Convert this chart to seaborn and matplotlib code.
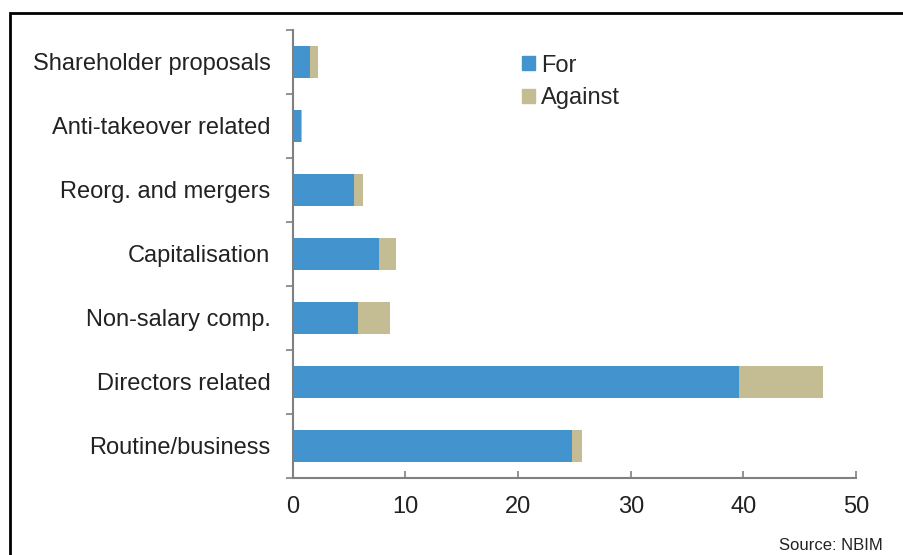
# %% import modules
import numpy as np
import pandas as pd
import matplotlib
matplotlib.use('Agg')
import matplotlib.pyplot as plt
from matplotlib.patches import Rectangle, Patch
import seaborn as sns

# %% data
categories = ['Shareholder proposals', 'Anti-takeover related', 'Reorg. and mergers',
              'Capitalisation', 'Non-salary comp.', 'Directors related', 'Routine/business']
votes_for = [1.5, 0.7, 5.4, 7.7, 5.8, 39.6, 24.8]
votes_against = [0.7, 0.1, 0.8, 1.5, 2.8, 7.5, 0.9]
x_ticks = [0, 10, 20, 30, 40, 50]

blue = '#4393cf'
khaki = '#c4bd94'

df = pd.DataFrame({'category': categories, 'For': votes_for, 'Against': votes_against})
df['total'] = df['For'] + df['Against']

# %% plot
sns.set_style('white')
plt.rcParams['font.family'] = ['Liberation Sans', 'DejaVu Sans']

fig = plt.figure(figsize=(9.04, 5.55), dpi=100)
ax = fig.add_axes([0.3238, 0.1393, 0.947 - 0.3238, 0.946 - 0.1393])

sns.barplot(data=df, x='total', y='category', color=khaki, orient='h',
            width=0.5, saturation=1, linewidth=0, ax=ax)
sns.barplot(data=df, x='For', y='category', color=blue, orient='h',
            width=0.5, saturation=1, linewidth=0, ax=ax)

ax.set_xlim(0, 50)
ax.set_ylim(len(categories) - 0.5, -0.5)
ax.set_xticks(x_ticks)
ax.set_xlabel('')
ax.set_ylabel('')

for s in ['top', 'right']:
    ax.spines[s].set_visible(False)
for s in ['left', 'bottom']:
    ax.spines[s].set_color('#808080')
    ax.spines[s].set_linewidth(1.5)

ax.tick_params(axis='x', bottom=True, direction='in', length=5, color='#808080',
               width=1.2, labelsize=17, pad=13, labelcolor='#222222')
ax.tick_params(axis='y', which='major', left=False, length=0, labelsize=17, pad=16,
               labelcolor='#222222')
ax.set_yticks(np.arange(-0.5, len(categories), 1), minor=True)
ax.tick_params(axis='y', which='minor', left=True, direction='out', length=5,
               color='#808080', width=1.2)

handles = [Patch(color=blue, label='For'), Patch(color=khaki, label='Against')]
ax.legend(handles=handles, loc='upper left', bbox_to_anchor=(0.39, 0.966),
          frameon=False, fontsize=17, handlelength=0.55, handleheight=0.55,
          handletextpad=0.25, labelspacing=0.45, borderaxespad=0)

fig.text(883 / 904, 1 - 545 / 555, 'Source: NBIM', ha='right', va='center',
         fontsize=12, color='#222222')

fig.patches.append(Rectangle((10 / 904, -0.1), 1.2, 1.1 - 13 / 555,
                             transform=fig.transFigure, fill=False,
                             edgecolor='black', linewidth=2, figure=fig))

plt.savefig('out.png', dpi=100)
